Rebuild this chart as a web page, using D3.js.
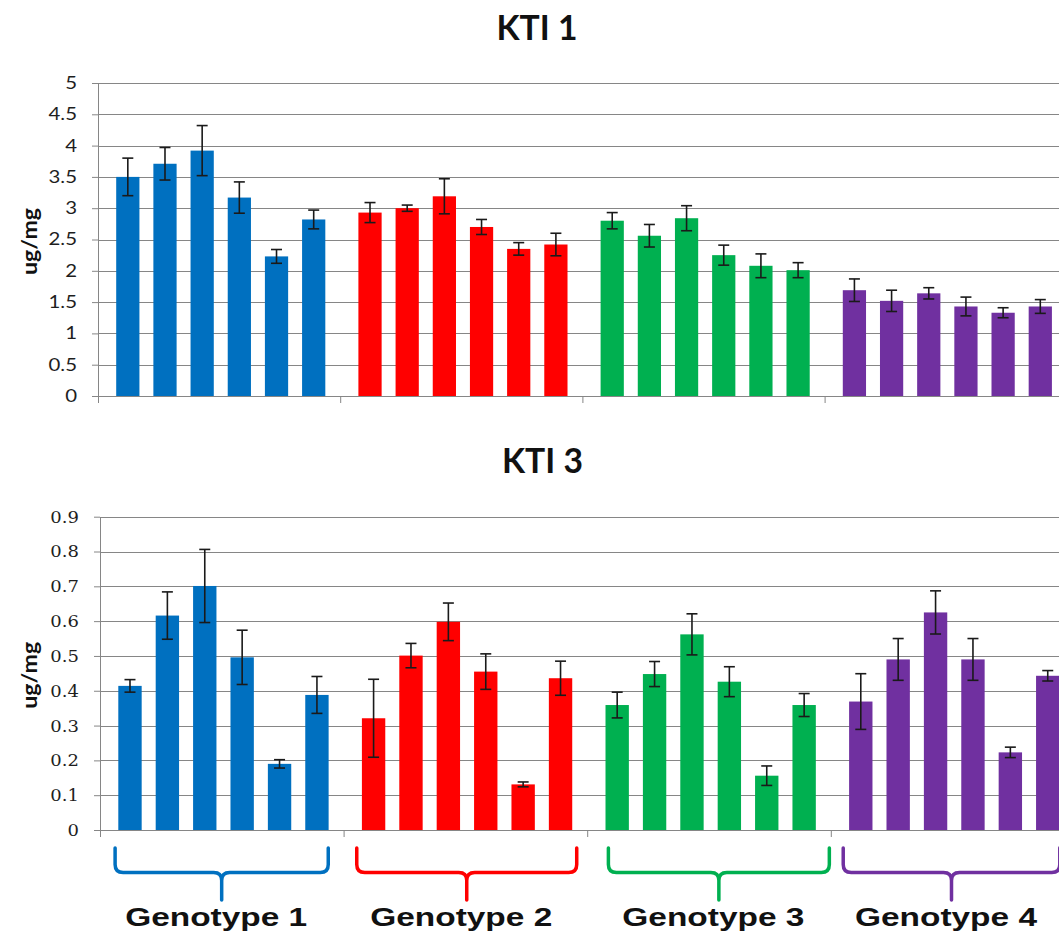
<!DOCTYPE html>
<html>
<head>
<meta charset="utf-8">
<script src="https://cdn.jsdelivr.net/npm/d3@7"></script>
<style>
  body { margin: 0; background: #ffffff; }
  svg { display: block; }
</style>
</head>
<body>
<script>
// ---------------- DATA ----------------
const genotypes = ["Genotype 1", "Genotype 2", "Genotype 3", "Genotype 4"];
const treatments = ["T1", "T2", "T3", "T4", "T5", "T6"];

const kti1Values = [
  [3.50, 3.71, 3.92, 3.17, 2.23, 2.82],
  [2.93, 3.00, 3.19, 2.70, 2.35, 2.42],
  [2.80, 2.56, 2.84, 2.25, 2.08, 2.01],
  [1.69, 1.52, 1.64, 1.43, 1.33, 1.43]
];
const kti1Errors = [
  [0.30, 0.26, 0.40, 0.25, 0.11, 0.15],
  [0.16, 0.05, 0.28, 0.12, 0.10, 0.18],
  [0.13, 0.18, 0.20, 0.16, 0.19, 0.12],
  [0.18, 0.17, 0.09, 0.15, 0.08, 0.11]
];
const kti3Values = [
  [0.414, 0.616, 0.701, 0.496, 0.190, 0.388],
  [0.321, 0.501, 0.598, 0.455, 0.131, 0.436],
  [0.359, 0.448, 0.562, 0.426, 0.156, 0.359],
  [0.369, 0.490, 0.625, 0.490, 0.223, 0.443]
];
const kti3Errors = [
  [0.018, 0.068, 0.105, 0.078, 0.012, 0.053],
  [0.112, 0.035, 0.054, 0.051, 0.007, 0.049],
  [0.037, 0.036, 0.059, 0.043, 0.028, 0.033],
  [0.080, 0.060, 0.062, 0.060, 0.015, 0.015]
];
const kti1Ticks = [0, 0.5, 1, 1.5, 2, 2.5, 3, 3.5, 4, 4.5, 5];
const kti1TickLabels = ["0", "0.5", "1", "1.5", "2", "2.5", "3", "3.5", "4", "4.5", "5"];
const kti3Ticks = [0, 0.1, 0.2, 0.3, 0.4, 0.5, 0.6, 0.7, 0.8, 0.9];
const kti3TickLabels = ["0", "0.1", "0.2", "0.3", "0.4", "0.5", "0.6", "0.7", "0.8", "0.9"];
const chartTitles = ["KTI 1", "KTI 3"];
const yLabel = "ug/mg";

// ---------------- STYLE / LAYOUT ----------------
const groupColors = ["#0070C0", "#FF0000", "#00B050", "#7030A0"];
const bracketSpans = [[0.062, 0.937], [0.054, 0.957], [0.087, 0.994], [0.051, 0.94]];
const W = 1059, H = 940;
const gridColor = "#868686";

const svg = d3.select("body").append("svg").attr("width", W).attr("height", H);

function stretchText(sel, factor) {
  sel.each(function () {
    const t = d3.select(this);
    const x = +t.attr("x") || 0;
    t.attr("x", x / factor).attr("transform", `scale(${factor},1)`);
  });
}

function drawPanel(cfg) {
  const g = svg.append("g");
  const x0 = d3.scaleBand().domain(genotypes).range([cfg.left, cfg.left + 4 * cfg.groupW]);
  const x1 = d3.scaleBand().domain(treatments).range([0, x0.bandwidth()])
    .paddingInner(0.375).paddingOuter(0.445).align(0.55);
  const y = d3.scaleLinear().domain([0, cfg.yMax]).range([cfg.yBottom, cfg.yTop]);

  // gridlines
  g.append("g").selectAll("line").data(cfg.ticks.slice(1)).join("line")
    .attr("x1", cfg.left).attr("x2", W)
    .attr("y1", d => Math.round(y(d)) + 0.5).attr("y2", d => Math.round(y(d)) + 0.5)
    .attr("stroke", gridColor).attr("stroke-width", 1.2);

  // y axis
  const ya = g.append("g").attr("transform", `translate(${cfg.left},0)`)
    .call(d3.axisLeft(y).tickValues(cfg.ticks).tickFormat((d, i) => cfg.tickLabels[i])
      .tickSize(6).tickSizeOuter(0).tickPadding(15));
  ya.select(".domain").attr("stroke", gridColor);
  ya.selectAll(".tick line").attr("stroke", gridColor);
  ya.selectAll(".tick text")
    .attr("font-family", cfg.tickFont).attr("font-size", cfg.tickSize)
    .attr("fill", "#1e1e1e");
  stretchText(ya.selectAll(".tick text"), cfg.tickStretch);

  // x axis with group boundary ticks
  const xb = d3.scaleLinear().domain([0, 4]).range([cfg.left, cfg.left + 4 * cfg.groupW]);
  const xa = g.append("g").attr("transform", `translate(0,${y(0)})`)
    .call(d3.axisBottom(xb).tickValues([0, 1, 2, 3]).tickSize(7).tickSizeOuter(0).tickFormat(""));
  xa.select(".domain").attr("stroke", gridColor);
  xa.selectAll(".tick line").attr("stroke", gridColor);

  // bars + error bars
  genotypes.forEach((gname, gi) => {
    const data = treatments.map((t, i) => ({ t, v: cfg.values[gi][i], e: cfg.errors[gi][i] }));
    const gg = g.append("g").attr("transform", `translate(${x0(gname)},0)`);
    gg.selectAll("rect").data(data).join("rect")
      .attr("x", d => x1(d.t)).attr("width", x1.bandwidth())
      .attr("y", d => y(d.v)).attr("height", d => y(0) - y(d.v))
      .attr("fill", groupColors[gi]);
    const cap = 5.5;
    const eb = gg.selectAll("g.err").data(data).join("g").attr("class", "err")
      .attr("stroke", "#1a1a1a").attr("stroke-width", 1.6);
    eb.append("line")
      .attr("x1", d => x1(d.t) + x1.bandwidth() / 2).attr("x2", d => x1(d.t) + x1.bandwidth() / 2)
      .attr("y1", d => y(d.v + d.e)).attr("y2", d => y(d.v - d.e));
    eb.append("line")
      .attr("x1", d => x1(d.t) + x1.bandwidth() / 2 - cap).attr("x2", d => x1(d.t) + x1.bandwidth() / 2 + cap)
      .attr("y1", d => y(d.v + d.e)).attr("y2", d => y(d.v + d.e));
    eb.append("line")
      .attr("x1", d => x1(d.t) + x1.bandwidth() / 2 - cap).attr("x2", d => x1(d.t) + x1.bandwidth() / 2 + cap)
      .attr("y1", d => y(d.v - d.e)).attr("y2", d => y(d.v - d.e));
  });

  // title
  svg.append("text").text(cfg.title)
    .attr("x", cfg.titleX).attr("y", cfg.titleY)
    .attr("text-anchor", "middle")
    .attr("font-family", "Lato, 'Open Sans', sans-serif").attr("font-weight", "bold")
    .attr("font-size", 34).attr("fill", "#111")
    .attr("textLength", 81).attr("lengthAdjust", "spacingAndGlyphs");

  // y label
  svg.append("text").text(yLabel)
    .attr("transform", `translate(37,${(cfg.yTop + cfg.yBottom) / 2 + 2}) rotate(-90)`)
    .attr("text-anchor", "middle")
    .attr("font-family", "Lato, 'Open Sans', sans-serif").attr("font-weight", "bold")
    .attr("font-size", 20).attr("fill", "#111")
    .attr("textLength", 67).attr("lengthAdjust", "spacingAndGlyphs");

  return { x0, y };
}

drawPanel({
  title: chartTitles[0], titleX: 537, titleY: 40,
  values: kti1Values, errors: kti1Errors,
  ticks: kti1Ticks, tickLabels: kti1TickLabels, yMax: 5,
  left: 98, groupW: 242.2, yTop: 83, yBottom: 396,
  tickFont: "Lato, 'Open Sans', sans-serif", tickSize: 17, tickStretch: 1.2
});

const bottom = drawPanel({
  title: chartTitles[1], titleX: 542.5, titleY: 473,
  values: kti3Values, errors: kti3Errors,
  ticks: kti3Ticks, tickLabels: kti3TickLabels, yMax: 0.9,
  left: 100, groupW: 243.6, yTop: 516.7, yBottom: 830,
  tickFont: "'DejaVu Serif', serif", tickSize: 17, tickStretch: 1.06
});

// brackets + genotype labels
const bx = bottom.x0;
const yArm = 848, yBar = 872.5, yTip = 900, r = 8;
genotypes.forEach((gname, gi) => {
  const a = bx(gname) + bracketSpans[gi][0] * bx.bandwidth();
  const b = bx(gname) + bracketSpans[gi][1] * bx.bandwidth();
  const c = (a + b) / 2;
  const p = d3.path();
  p.moveTo(a, yArm); p.lineTo(a, yBar - r);
  p.quadraticCurveTo(a, yBar, a + r, yBar);
  p.lineTo(c - r, yBar);
  p.quadraticCurveTo(c, yBar, c, yBar + r);
  p.lineTo(c, yTip);
  p.moveTo(c, yBar + r);
  p.quadraticCurveTo(c, yBar, c + r, yBar);
  p.lineTo(b - r, yBar);
  p.quadraticCurveTo(b, yBar, b, yBar - r);
  p.lineTo(b, yArm);
  svg.append("path").attr("d", p.toString())
    .attr("fill", "none").attr("stroke", groupColors[gi]).attr("stroke-width", 3.5)
    .attr("stroke-linecap", "round").attr("stroke-linejoin", "round");
  svg.append("text").text(gname)
    .attr("x", c - 5.5).attr("y", 926)
    .attr("text-anchor", "middle")
    .attr("font-family", "'Liberation Sans', Arial, sans-serif").attr("font-weight", "bold")
    .attr("font-size", 25).attr("fill", "#111")
    .attr("textLength", 182).attr("lengthAdjust", "spacingAndGlyphs");
});
</script>
</body>
</html>
